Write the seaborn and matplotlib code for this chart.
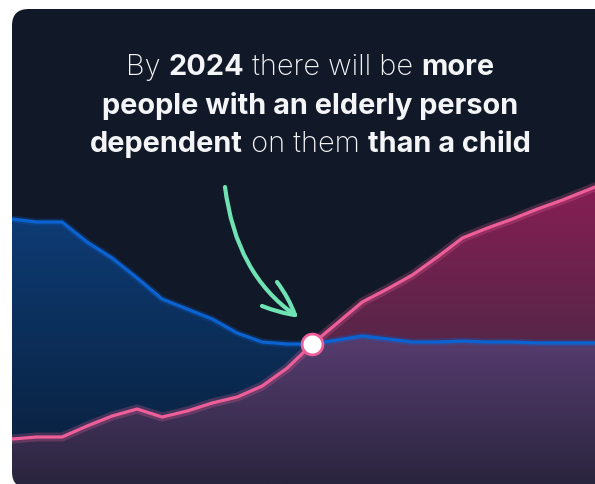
import numpy as np
import pandas as pd
import seaborn as sns
import matplotlib
matplotlib.use("Agg")
import matplotlib.pyplot as plt
from matplotlib.patches import FancyBboxPatch, PathPatch
from matplotlib.path import Path
from matplotlib import patheffects as pe

# ---- data ---------------------------------------------------------------
years = list(range(2012, 2037))
child_dependents = [26.5, 26.2, 26.2, 24.2, 22.6, 20.6, 18.5, 17.5, 16.5, 15.1,
                    14.2, 14.0, 14.0, 14.4, 14.8, 14.5, 14.2, 14.2, 14.3, 14.2,
                    14.2, 14.1, 14.1, 14.1, 14.1]
elderly_dependents = [4.5, 4.7, 4.7, 5.8, 6.8, 7.5, 6.7, 7.3, 8.1, 8.7,
                      9.8, 11.6, 14.0, 16.1, 18.2, 19.5, 20.9, 22.7, 24.6, 25.6,
                      26.5, 27.5, 28.4, 29.4, 30.4]
crossover_year = 2024
headline = [
    [("By ", "light"), ("2024", "bold"), (" there will be ", "light"), ("more", "bold")],
    [("people with an elderly person", "bold")],
    [("dependent", "bold"), (" on them ", "light"), ("than a child", "bold")],
]

# ---- style --------------------------------------------------------------
W, H = 595, 484
BG = "#111827"
BLUE = "#0b63d2"
PINK = "#ee5f99"
MINT = "#6fe3b4"

sns.set_theme(style="white")
plt.rcParams["font.family"] = ["Inter", "DejaVu Sans"]

fig = plt.figure(figsize=(W / 100, H / 100), dpi=100, facecolor="white")

# dark rounded card behind everything
card = FancyBboxPatch((12 / W, -4 / H), (W + 20 - 12) / W, (H - 9 + 4) / H,
                      boxstyle="round,pad=0,rounding_size=0.028",
                      transform=fig.transFigure, facecolor=BG, edgecolor="none",
                      mutation_aspect=W / H, zorder=-10)
fig.patches.append(card)

ax = fig.add_axes([12 / W, 0, (W - 12) / W, (H - 9) / H])
ax.patch.set_visible(False)

df = pd.DataFrame({"year": years, "child": child_dependents, "elderly": elderly_dependents})
x = df["year"].to_numpy(float)
b = df["child"].to_numpy(float)
p = df["elderly"].to_numpy(float)
ytop = (H - 9) / 10


def yv(px):
    """Pixel row to data units (10 px per unit)."""
    return (H - px) / 10


def gradient_fill(coll, top_rgb, bot_rgb, y_top, y_bot):
    """Fill the area of a PolyCollection with a vertical colour gradient."""
    paths = coll.get_paths()
    coll.remove()
    if not paths:
        return
    clip = Path.make_compound_path(*paths)
    ys = np.linspace(0, ytop, 400)
    t = np.clip((ys - y_bot) / (y_top - y_bot), 0, 1)[:, None]
    top = np.array(top_rgb) / 255
    bot = np.array(bot_rgb) / 255
    img = (bot + (top - bot) * t)[:, None, :]
    im = ax.imshow(img, extent=[x[0], x[-1], 0, ytop], origin="lower",
                   aspect="auto", interpolation="bilinear", zorder=1)
    patch = PathPatch(clip, transform=ax.transData, facecolor="none", edgecolor="none")
    ax.add_patch(patch)
    im.set_clip_path(patch)


both = ax.fill_between(x, 0, np.minimum(b, p))
gradient_fill(both, (86, 60, 110), (42, 37, 62), yv(340), yv(484))
blue_only = ax.fill_between(x, p, b, where=b >= p, interpolate=True)
gradient_fill(blue_only, (14, 60, 118), (9, 32, 60), yv(210), yv(470))
pink_only = ax.fill_between(x, b, p, where=p >= b, interpolate=True)
gradient_fill(pink_only, (136, 30, 84), (86, 38, 72), yv(180), yv(345))

sns.lineplot(data=df, x="year", y="child", ax=ax, color=BLUE, lw=2.3, zorder=3,
             path_effects=[pe.Stroke(linewidth=5, foreground=BLUE, alpha=0.25), pe.Normal()])
sns.lineplot(data=df, x="year", y="elderly", ax=ax, color=PINK, lw=2.3, zorder=4,
             path_effects=[pe.Stroke(linewidth=6.5, foreground=PINK, alpha=0.25), pe.Normal()])
ax.set_xlim(2012, 2035.3)
ax.set_ylim(0, ytop)
ax.set_axis_off()

ci = years.index(crossover_year)
ax.plot([crossover_year], [child_dependents[ci]], marker="o", ms=15,
        mfc="white", mec=PINK, mew=2, zorder=6, clip_on=False)


def fig_pt(px, py):
    return (px / W, (H - py) / H)


# white mask rounding off the card's lower-left corner
r = 16
corner = Path([fig_pt(12, H + 4 - r), fig_pt(12, H + 4), fig_pt(12 + r, H + 4),
               fig_pt(0, H + 4), fig_pt(0, H + 4 - r), fig_pt(12, H + 4 - r)],
              [Path.MOVETO, Path.CURVE3, Path.CURVE3, Path.LINETO, Path.LINETO, Path.CLOSEPOLY])
fig.patches.append(PathPatch(corner, transform=fig.transFigure, facecolor="white",
                             edgecolor="none", zorder=5))

# curved arrow pointing at the crossover
P0, C, P2 = (225, 187), (236, 274), (295, 315)
arrow = PathPatch(Path([fig_pt(*P0), fig_pt(*C), fig_pt(*P2)],
                       [Path.MOVETO, Path.CURVE3, Path.CURVE3]),
                  transform=fig.transFigure, facecolor="none", edgecolor=MINT,
                  lw=3, capstyle="round", joinstyle="round", zorder=7)
fig.patches.append(arrow)
for start, bend in [((277, 282), (289, 298)), ((262, 306), (280, 313))]:
    head = PathPatch(Path([fig_pt(*start), fig_pt(*bend), fig_pt(*P2)],
                          [Path.MOVETO, Path.CURVE3, Path.CURVE3]),
                     transform=fig.transFigure, facecolor="none", edgecolor=MINT,
                     lw=3, capstyle="round", zorder=7)
    fig.patches.append(head)

# headline with mixed weights, each line centred
renderer = fig.canvas.get_renderer()
cx = 310
baselines = [75, 114, 152]
for segs, base in zip(headline, baselines):
    texts = [fig.text(0, 0, s, fontsize=20.8, fontweight=w, color="#f4f5f7",
                      va="baseline", ha="left") for s, w in segs]
    widths = [t.get_window_extent(renderer).width for t in texts]
    xpos = cx - sum(widths) / 2
    for t, w in zip(texts, widths):
        t.set_position(fig_pt(xpos, base))
        xpos += w

fig.savefig("out.png", dpi=100, facecolor="white")
